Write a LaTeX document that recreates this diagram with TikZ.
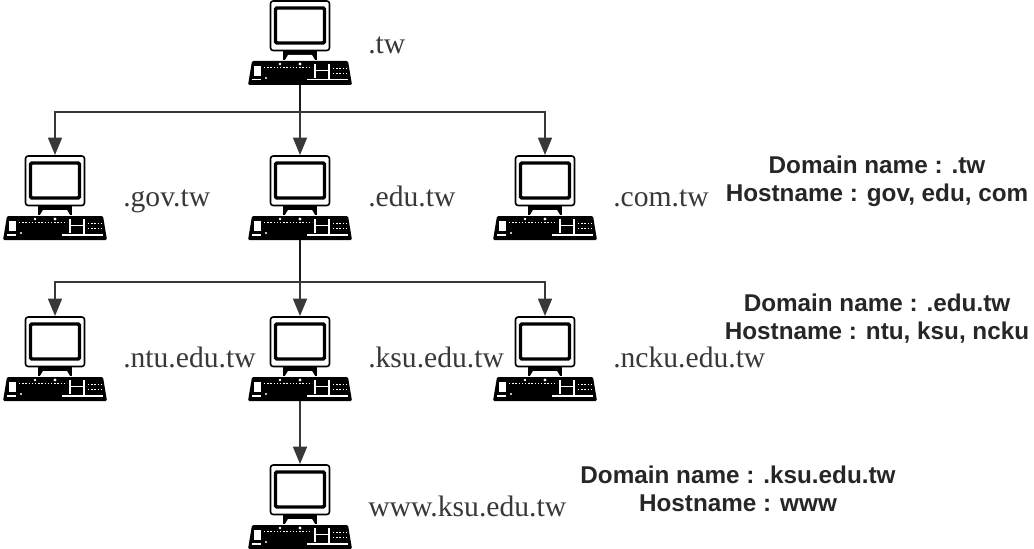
\documentclass[tikz,border=0pt]{standalone}
\usepackage{fontspec}
\setmainfont{Liberation Serif}
\newfontfamily\labelsans{Liberation Sans}
\usetikzlibrary{arrows.meta}
\definecolor{inkgray}{gray}{0.22}
\tikzset{
	link/.style={line width=1.1pt,draw=inkgray},
	stem/.style={line width=1.8pt,draw=black!90},
	drop/.style={link,-{Triangle[length=13pt,width=10.5pt]}},
	hostlabel/.style={anchor=base west,text=inkgray,font=\fontsize{22.2}{24}\selectfont,inner sep=0pt},
	zonelabel/.style={align=center,font=\labelsans\bfseries\fontsize{18.2}{21}\selectfont,text=black!85,inner sep=0pt},
	computer/.pic={
		\coordinate (-top) at (0,0);
		\coordinate (-bot) at (0,85);
		% monitor
		\draw[line width=1.2pt,rounded corners=2pt,fill=white] (-29.5,1) rectangle (29.5,50.5);
		\draw[line width=2.6pt,rounded corners=1pt,fill=white] (-24.5,8) rectangle (24.5,43);
		% neck
		\fill (-17,51) -- (17,51) -- (17,60) -- (-17,60) -- cycle;
		\fill[white] (-12,55) -- (12,55) -- (15,60) -- (-15,60) -- cycle;
		% keyboard
		\fill[rounded corners=1pt] (-48,61) -- (48,61) -- (52,85) -- (-52,85) -- cycle;
		\fill[white] (-46,66) rectangle (-39,76);
		\fill[white] (-48,79) rectangle (-39,80.5);
		\fill[white] (-20,64) circle (1pt);
		\fill[white] (0,64) circle (1.3pt);
		\fill[white] (-34,78) circle (0.8pt);
		\fill[white] (14,64) rectangle (16,78);
		\fill[white] (28,64) rectangle (30,79);
		\fill[white] (16,70) rectangle (28,71);
		\fill[white] (7,79) rectangle (48,80.5);
		\draw[white,line width=0.3pt,dash pattern=on 1pt off 1.4pt] (-36,67) -- (12,67);
		\draw[white,line width=0.3pt,dash pattern=on 1pt off 1.4pt] (33,68) -- (47,68);
		\draw[white,line width=0.3pt,dash pattern=on 1pt off 1.4pt] (33,73) -- (47,73);
	}
}
\begin{document}
\begin{tikzpicture}[x=0.75pt,y=-0.75pt]
	\useasboundingbox (0,0) rectangle (1034,549);
	\pic (tw) at (300,0) {computer};
	\pic (gov) at (55,155) {computer};
	\pic (edu) at (300,155) {computer};
	\pic (com) at (545,155) {computer};
	\pic (ntu) at (55,316) {computer};
	\pic (ksu) at (300,316) {computer};
	\pic (ncku) at (545,316) {computer};
	\pic (www) at (300,464) {computer};
	\coordinate (busa) at (300,112);
	\coordinate (busb) at (300,282);
	% first level
	\draw[stem] (tw-bot) -- (busa);
	\draw[drop] (busa) -| (gov-top);
	\draw[drop] (busa) -- (edu-top);
	\draw[drop] (busa) -| (com-top);
	% second level
	\draw[stem] (edu-bot) -- (busb);
	\draw[drop] (busb) -| (ntu-top);
	\draw[drop] (busb) -- (ksu-top);
	\draw[drop] (busb) -| (ncku-top);
	% third level
	\draw[drop] (ksu-bot) -- (www-top);
	\node[hostlabel] (twname) at (368,54) {.tw};
	\node[hostlabel] (govname) at (123,206) {.gov.tw};
	\node[hostlabel] (eduname) at (368,206) {.edu.tw};
	\node[hostlabel] (comname) at (613,206) {.com.tw};
	\node[hostlabel] (ntuname) at (123,367) {.ntu.edu.tw};
	\node[hostlabel] (ksuname) at (368,367) {.ksu.edu.tw};
	\node[hostlabel] (nckuname) at (613,367) {.ncku.edu.tw};
	\node[hostlabel] (wwwname) at (368,516) {www.ksu.edu.tw};
	\node[zonelabel] (zonea) at (877,181) {Domain name : .tw\\Hostname : gov, edu, com};
	\node[zonelabel] (zoneb) at (877,319) {Domain name : .edu.tw\\Hostname : ntu, ksu, ncku};
	\node[zonelabel] (zonec) at (738,489) {Domain name : .ksu.edu.tw\\Hostname : www};
\end{tikzpicture}
\end{document}
